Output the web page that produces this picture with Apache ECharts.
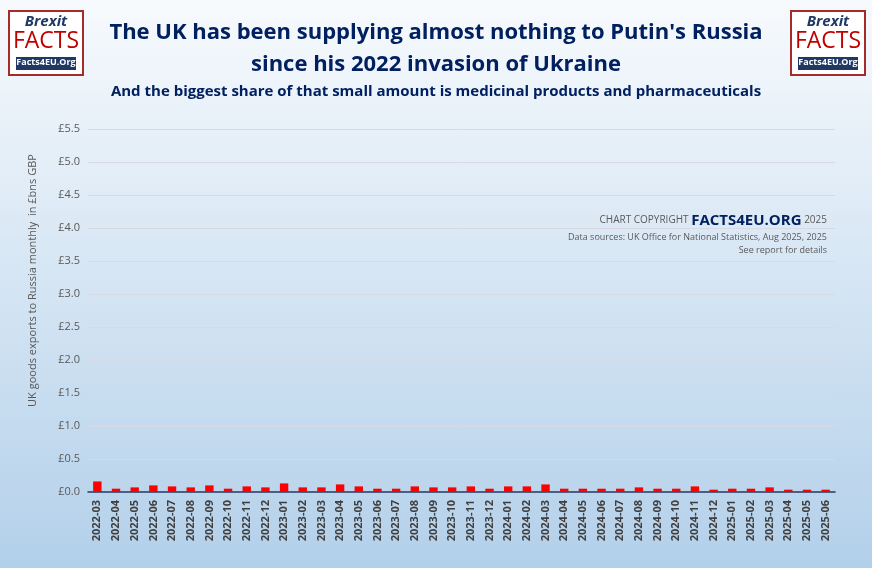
<!DOCTYPE html>
<html><head><meta charset="utf-8">
<script src="https://cdn.jsdelivr.net/npm/echarts@6/dist/echarts.min.js"></script>
<style>html,body{margin:0;padding:0}#chart{width:872px;height:568px}</style>
</head><body><div id="chart"></div>
<script>
var months = ['2022-03','2022-04','2022-05','2022-06','2022-07','2022-08','2022-09','2022-10','2022-11','2022-12',
  '2023-01','2023-02','2023-03','2023-04','2023-05','2023-06','2023-07','2023-08','2023-09','2023-10','2023-11','2023-12',
  '2024-01','2024-02','2024-03','2024-04','2024-05','2024-06','2024-07','2024-08','2024-09','2024-10','2024-11','2024-12',
  '2025-01','2025-02','2025-03','2025-04','2025-05','2025-06'];
var exportsBn = [0.16,0.05,0.07,0.10,0.085,0.07,0.10,0.05,0.085,0.07,
  0.13,0.07,0.07,0.115,0.085,0.05,0.05,0.085,0.07,0.07,0.085,0.05,
  0.085,0.085,0.115,0.05,0.05,0.05,0.05,0.07,0.05,0.05,0.085,0.035,
  0.05,0.05,0.07,0.035,0.035,0.035];

function logo(x) {
  return {type:'group', left:x, top:10, children:[
    {type:'rect', shape:{x:0,y:0,width:74,height:64}, style:{fill:'#fff', stroke:'#a52a2a', lineWidth:2}},
    {type:'text', style:{x:37,y:3,text:'Brexit',align:'center',fill:'#1f3864',font:'italic bold 15px "Open Sans"'}},
    {type:'text', style:{x:37,y:19,text:'FACTS',align:'center',fill:'#c00000',font:'23px "Open Sans"'}},
    {type:'rect', shape:{x:7,y:46,width:60,height:13}, style:{fill:'#1f3864'}},
    {type:'text', style:{x:37,y:47,text:'Facts4EU.Org',align:'center',fill:'#fff',font:'bold 9px "Open Sans"'}}
  ]};
}

var chart = echarts.init(document.getElementById('chart'));
chart.setOption({
  backgroundColor: new echarts.graphic.LinearGradient(0,0,0,1,[{offset:0,color:'#f7fafd'},{offset:1,color:'#b3d0ea'}]),
  title: [
    {text:"The UK has been supplying almost nothing to Putin's Russia\nsince his 2022 invasion of Ukraine", left:'center', top:12,
     textStyle:{color:'#002060', fontSize:22, fontWeight:'bold', fontFamily:'Open Sans', lineHeight:32}},
    {text:'And the biggest share of that small amount is medicinal products and pharmaceuticals', left:'center', top:79,
     textStyle:{color:'#002060', fontSize:15, fontWeight:'bold', fontFamily:'Open Sans'}}
  ],
  graphic: [
    logo(8), logo(790),
    {type:'text', right:45, top:213, style:{text:'CHART COPYRIGHT {b|FACTS4EU.ORG} 2025', fill:'#595959', font:'10px "Open Sans"',
      rich:{b:{fontSize:15, fontWeight:'bold', fill:'#002060', fontFamily:'Open Sans'}}}},
    {type:'text', right:45, top:233, style:{text:'Data sources: UK Office for National Statistics, Aug 2025, 2025', fill:'#595959', font:'9px "Open Sans"'}},
    {type:'text', right:45, top:246, style:{text:'See report for details', fill:'#595959', font:'9px "Open Sans"'}}
  ],
  grid: {left:88, right:37, top:129, bottom:76},
  xAxis: {type:'category', data:months,
    axisLine:{lineStyle:{color:'#1f3864', width:1.5}}, axisTick:{show:false},
    axisLabel:{rotate:90, interval:0, color:'#404040', fontSize:11, fontWeight:'bold', fontFamily:'Open Sans'}},
  yAxis: {type:'value', min:0, max:5.5, interval:0.5,
    name:'UK goods exports to Russia monthly  in £bns GBP', nameLocation:'middle', nameGap:50,
    nameTextStyle:{color:'#595959', fontSize:11, fontFamily:'Open Sans', padding:[0,0,0,60]},
    axisLabel:{color:'#595959', fontSize:11, fontFamily:'Open Sans', formatter:function(v){return '£'+v.toFixed(1);}},
    splitLine:{lineStyle:{color:'#d9d9e6'}}},
  series: [{type:'bar', data:exportsBn, barWidth:'45%', itemStyle:{color:'#ff0000'}}]
});
</script></body></html>
